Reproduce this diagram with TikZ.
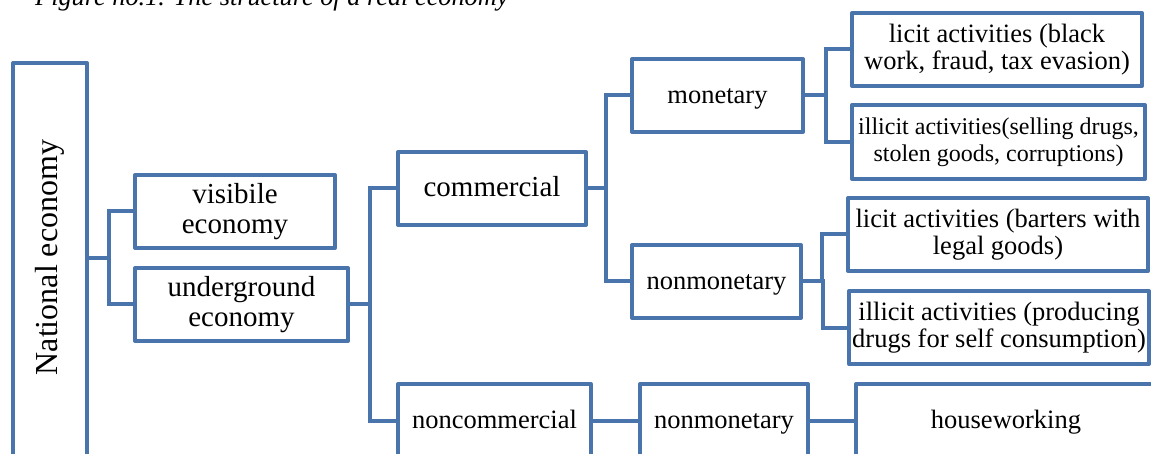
\documentclass[tikz,border=0pt]{standalone}
\usepackage{fontspec}
\setmainfont{Liberation Serif}
\definecolor{boxblue}{RGB}{74,117,172}
\newcommand\fstrut{\rule[-0.22em]{0pt}{1.02em}}
\tikzset{
  box/.style={draw=boxblue, line width=4pt, line join=round, fill=white, inner sep=0pt, align=center,
    font=\fontsize{26.5}{27.5}\selectfont,
    execute at begin node=\fstrut, execute at end node=\fstrut},
  bigtext/.style={font=\fontsize{29}{30}\selectfont},
  smalltext/.style={font=\fontsize{24}{27}\selectfont},
  link/.style={draw=boxblue, line width=4pt, line join=miter}
}
\begin{document}
\begin{tikzpicture}[x=1pt,y=-1pt]
\useasboundingbox (0,0) rectangle (1151,454);
\clip (0,0) rectangle (1151,454);
\fill[white] (0,0) rectangle (1151,454);
\node[anchor=base west, inner sep=0pt, font=\itshape\fontsize{26.3}{28}\selectfont] (cap) at (35,6) {Figure no.1. The structure of a real economy};
% boxes
\node[box, minimum width=74pt, minimum height=395pt, execute at begin node={}, execute at end node={}] (nat) at (50,260.5) {};
\node[rotate=90, font=\fontsize{32}{34}\selectfont] (natt) at ([yshift=3pt]nat.center) {National economy};
\node[box, bigtext, minimum width=200pt, minimum height=73pt] (vis) at (235,211.5) {visibile\\economy};
\node[box, bigtext, minimum width=213pt, minimum height=73pt] (und) at (241.5,304.5) {underground\\economy};
\node[box, bigtext, minimum width=188pt, minimum height=73pt] (com) at (492,188.5) {commercial};
\node[box, minimum width=193pt, minimum height=74pt] (ncom) at (494.5,421) {noncommercial};
\node[box, minimum width=171pt, minimum height=73pt] (mon) at (717.5,95.5) {monetary};
\node[box, minimum width=169pt, minimum height=73pt] (nmon) at (716.5,281.5) {nonmonetary};
\node[box, minimum width=168pt, minimum height=74pt] (nmonb) at (724,421) {nonmonetary};
\node[box, minimum width=290pt, minimum height=73pt] (lic1) at (997,49.5) {licit activities (black\\work, fraud, tax evasion)};
\node[box, smalltext, minimum width=293pt, minimum height=74pt] (ill1) at (998.5,142) {illicit activities(selling drugs,\\stolen goods, corruptions)};
\node[box, minimum width=300pt, minimum height=73pt] (lic2) at (998,234.5) {licit activities (barters with\\legal goods)};
\node[box, minimum width=300pt, minimum height=73pt] (ill2) at (999,327.5) {illicit activities (producing\\drugs for self consumption)};
\node[box, minimum width=300pt, minimum height=74pt] (hw) at (1006,421) {houseworking};
% connectors
\draw[link] ([yshift=2.5pt]nat.east) -| ([xshift=-24pt]vis.west) -- (vis.west);
\draw[link] ([yshift=2.5pt]nat.east) -| ([xshift=-24pt]und.west) -- (und.west);
\draw[link] (und.east) -| ([xshift=-26pt]com.west) -- (com.west);
\draw[link] (und.east) -| ([xshift=-26pt]ncom.west) -- (ncom.west);
\draw[link] (com.east) -| ([xshift=-24pt]mon.west) -- (mon.west);
\draw[link] (com.east) -| ([xshift=-24pt]nmon.west) -- (nmon.west);
\draw[link] (mon.east) -| ([xshift=-24pt]lic1.west) -- (lic1.west);
\draw[link] (mon.east) -| ([xshift=-24pt]ill1.west) -- (ill1.west);
\draw[link] (nmon.east) -| ([xshift=-24pt]lic2.west) -- (lic2.west);
\draw[link] (nmon.east) -| ([xshift=-24pt]ill2.west) -- (ill2.west);
\draw[link] (ncom.east) -- (nmonb.west);
\draw[link] (nmonb.east) -- (hw.west);
\end{tikzpicture}
\end{document}
